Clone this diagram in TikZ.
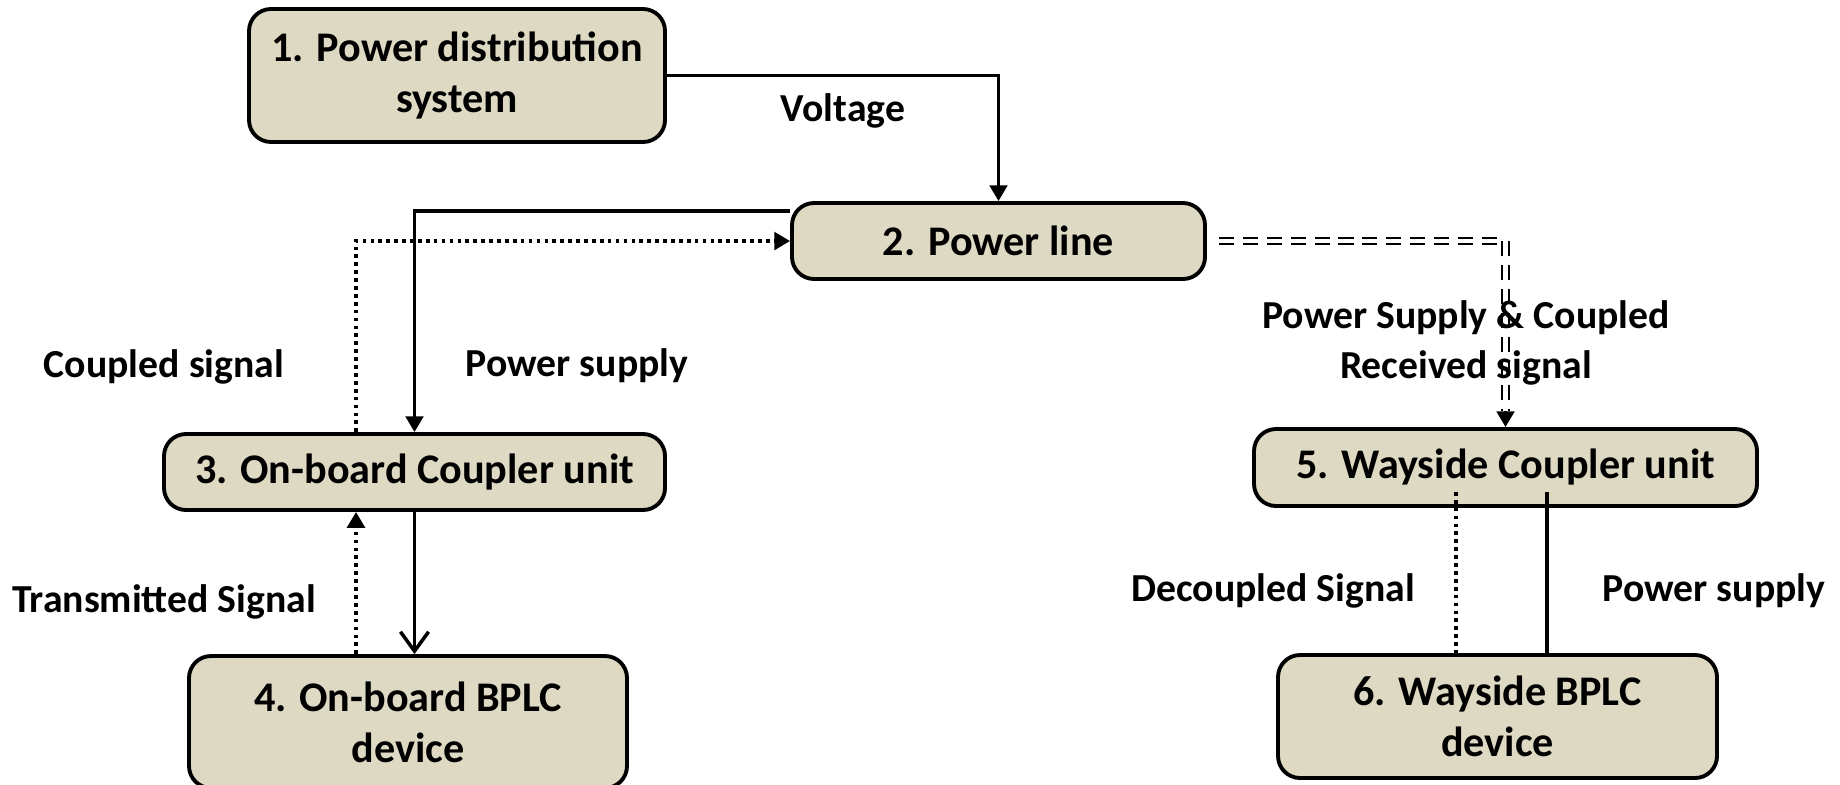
\documentclass[tikz,border=0pt]{standalone}
\usepackage{fontspec}
\setmainfont{Carlito}
\usepackage{xcolor}
\usetikzlibrary{arrows.meta,calc}
\definecolor{boxfill}{RGB}{221,217,195}

\begin{document}
\begin{tikzpicture}[every node/.style={font=\fontsize{11.3}{14}\selectfont\bfseries},
        blk/.style={draw, fill=boxfill, line width=1.1pt, rounded corners=2.2mm, align=center, inner sep=0pt, font=\fontsize{12}{14.5}\selectfont\bfseries},
        pwr/.style={line width=1pt},
        sig/.style={line width=1.05pt, dash pattern=on 1.05pt off 1.2pt},
        tri/.style={-{Triangle[length=4.5pt,width=5pt]}}]
        \useasboundingbox (0,0) rectangle (18.4,7.84);

        \node[blk, minimum width=4.16cm, minimum height=1.33cm] (pds) at (4.57,7.085) {1. Power distribution\\system};
        \node[blk, minimum width=4.13cm, minimum height=0.76cm] (line) at (9.985,5.43) {2. Power line};
        \node[blk, minimum width=5.01cm, minimum height=0.76cm] (obc) at (4.145,3.12) {3. On-board Coupler unit};
        \node[blk, minimum width=4.38cm, minimum height=1.32cm] (obd) at (4.08,0.62) {4. On-board BPLC\\device};
        \node[blk, minimum width=5.03cm, minimum height=0.77cm] (wsc) at (15.055,3.165) {5. Wayside Coupler unit};
        \node[blk, minimum width=4.39cm, minimum height=1.23cm] (wsd) at (14.975,0.675) {6. Wayside BPLC\\device};

        \draw[pwr, tri] (pds.east) -| (line.north);
        \draw[pwr, tri] ([yshift=3mm]line.west) -| (obc.north);
        \draw[sig, tri] ([xshift=-5.85mm]obc.north) |- (line.west);

        \coordinate (tx) at ([xshift=-5.85mm]obc.south);
        \draw[sig, tri] (tx |- obd.north) -- (tx);
        \draw[pwr, -{Straight Barb[length=5.5pt,width=8pt]}] (obc.south) -- (obc.south |- obd.north);

        \coordinate (rx) at ([yshift=4.5pt]wsc.north);
        \draw[line width=0.5pt, double, double distance=1.3pt, dash pattern=on 4.3pt off 2.5pt] ([xshift=1.2mm]line.east) -| (rx);
        \draw[pwr, tri] (rx) -- (wsc.north);

        \coordinate (ds) at ([xshift=-4.95mm, yshift=1.6mm]wsc.south);
        \draw[sig] (ds) -- (ds |- wsd.north);
        \coordinate (ps) at ([xshift=4.15mm, yshift=1.6mm]wsc.south);
        \draw[pwr] (ps) -- (ps |- wsd.north);

        \node (volt) at (8.43,6.73) {Voltage};
        \node (cpl) at (1.64,4.17) {Coupled signal};
        \node (obps) at (5.77,4.18) {Power supply};
        \node (txs) at (1.64,1.82) {Transmitted Signal};
        \node[align=center] (rxs) at (14.66,4.41) {Power Supply \& Coupled\\Received signal};
        \node (dec) at (12.73,1.93) {Decoupled Signal};
        \node (wsps) at (17.14,1.93) {Power supply};
    \end{tikzpicture}
\end{document}
